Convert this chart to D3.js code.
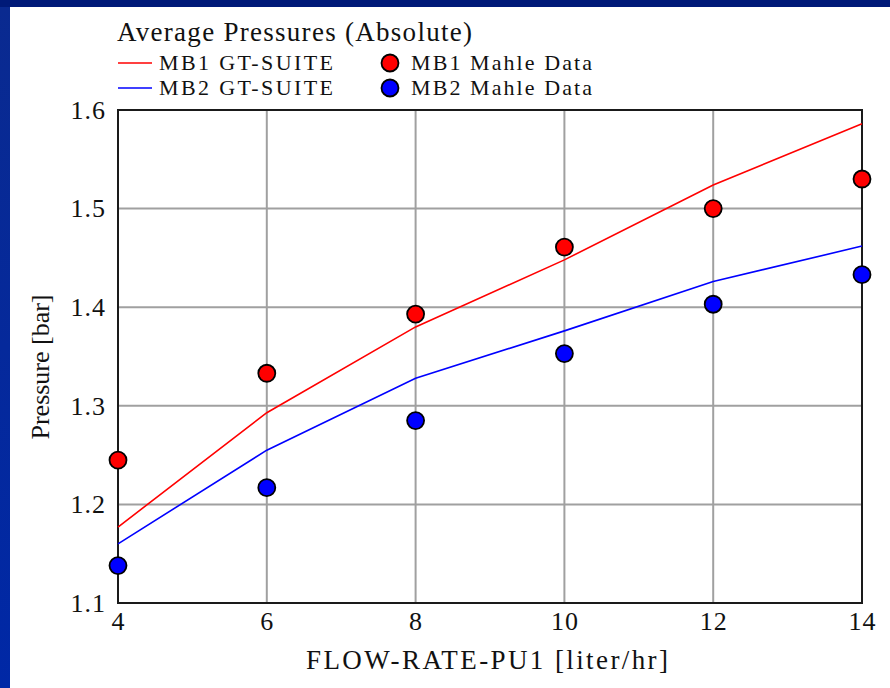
<!DOCTYPE html>
<html>
  <head>
    <meta charset="utf-8">
    <title>Average Pressures</title>
    <script src="https://d3js.org/d3.v7.min.js"></script>
    <style>
      body { margin: 0; background: #001a78; }
      text { font-family: "Liberation Serif", "DejaVu Serif", serif; fill: #111; }
    </style>
  </head>
  <body>
    <script>
      // chart values
      const flowRates = [4, 6, 8, 10, 12, 14];
      const mb1Suite = [1.177, 1.293, 1.380, 1.448, 1.524, 1.586];
      const mb2Suite = [1.160, 1.255, 1.328, 1.376, 1.426, 1.462];
      const mb1Mahle = [1.245, 1.333, 1.393, 1.461, 1.500, 1.530];
      const mb2Mahle = [1.138, 1.217, 1.285, 1.353, 1.403, 1.433];
      const yTicks = [1.1, 1.2, 1.3, 1.4, 1.5, 1.6];
      const xTicks = [4, 6, 8, 10, 12, 14];

      const width = 890;
      const height = 688;
      const plot = {left: 118, right: 862, top: 110, bottom: 603};

      const svg = d3.select("body")
        .append("svg")
          .attr("width", width)
          .attr("height", height)
          .style("display", "block");

      // navy frame + white panel
      const grad = svg.append("defs").append("linearGradient")
          .attr("id", "side")
          .attr("x1", 0).attr("y1", 0).attr("x2", 0).attr("y2", 1);
      grad.append("stop").attr("offset", "0%").attr("stop-color", "#0a2a90");
      grad.append("stop").attr("offset", "100%").attr("stop-color", "#0028a6");

      svg.append("rect").attr("width", width).attr("height", height).attr("fill", "#001a78");
      svg.append("rect").attr("x", 0).attr("y", 7).attr("width", 10).attr("height", height - 7)
        .attr("fill", "url(#side)");
      svg.append("rect").attr("x", 10).attr("y", 7).attr("width", width - 10).attr("height", height - 7)
        .attr("fill", "#fff");

      const x = d3.scaleLinear().domain([4, 14]).range([plot.left, plot.right]);
      const y = d3.scaleLinear().domain([1.1, 1.6]).range([plot.bottom, plot.top]);

      // grid
      svg.append("g")
        .selectAll("line")
        .data(xTicks.slice(1, -1))
        .join("line")
          .attr("x1", d => x(d)).attr("x2", d => x(d))
          .attr("y1", plot.top).attr("y2", plot.bottom)
          .attr("stroke", "#a0a0a0").attr("stroke-width", 2);

      svg.append("g")
        .selectAll("line")
        .data(yTicks.slice(1, -1))
        .join("line")
          .attr("x1", plot.left).attr("x2", plot.right)
          .attr("y1", d => y(d)).attr("y2", d => y(d))
          .attr("stroke", "#a0a0a0").attr("stroke-width", 2);

      // axes (labels only, frame drawn separately)
      const yAxis = d3.axisLeft(y).tickValues(yTicks).tickSize(0).tickPadding(12)
        .tickFormat(d3.format(".1f"));
      const xAxis = d3.axisBottom(x).tickValues(xTicks).tickSize(0).tickPadding(9)
        .tickFormat(d3.format("d"));

      const gy = svg.append("g")
        .attr("transform", "translate(" + plot.left + ",0)")
        .call(yAxis);
      const gx = svg.append("g")
        .attr("transform", "translate(0," + plot.bottom + ")")
        .call(xAxis);
      [gy, gx].forEach(g => {
        g.select(".domain").remove();
        g.selectAll("text")
          .style("font-family", "'Liberation Serif', serif")
          .style("font-size", "26px")
          .attr("fill", "#111")
          .attr("letter-spacing", "1px");
      });

      // frame
      svg.append("path")
        .attr("d", "M" + plot.left + "," + plot.top + "H" + plot.right + "V" + plot.bottom +
                   "H" + plot.left + "Z")
        .attr("fill", "none")
        .attr("stroke", "#1a1a1a")
        .attr("stroke-width", 2);

      // simulation lines
      const line = d3.line()
        .x((d, i) => x(flowRates[i]))
        .y(d => y(d));

      svg.append("path")
        .attr("d", line(mb1Suite))
        .attr("fill", "none")
        .attr("stroke", "#ff0000")
        .attr("stroke-width", 1.6);

      svg.append("path")
        .attr("d", line(mb2Suite))
        .attr("fill", "none")
        .attr("stroke", "#0000ff")
        .attr("stroke-width", 1.6);

      // measured points
      function dots(values, color) {
        svg.append("g")
          .selectAll("circle")
          .data(values)
          .join("circle")
            .attr("cx", (d, i) => x(flowRates[i]))
            .attr("cy", d => y(d))
            .attr("r", 8.5)
            .attr("fill", color)
            .attr("stroke", "#000")
            .attr("stroke-width", 1.8);
      }
      dots(mb1Mahle, "#ff0000");
      dots(mb2Mahle, "#0000ff");

      // title
      svg.append("text")
        .attr("x", 117)
        .attr("y", 41)
        .attr("textLength", 355)
        .attr("lengthAdjust", "spacing")
        .style("font-size", "27px")
        .text("Average Pressures (Absolute)");

      // legend
      const legendRows = [
        {label: "MB1 GT-SUITE", dot: "MB1 Mahle Data", color: "#ff0000", y: 63},
        {label: "MB2 GT-SUITE", dot: "MB2 Mahle Data", color: "#0000ff", y: 88}
      ];
      const legend = svg.append("g");
      legendRows.forEach(r => {
        legend.append("line")
          .attr("x1", 118).attr("x2", 152)
          .attr("y1", r.y).attr("y2", r.y)
          .attr("stroke", r.color).attr("stroke-width", 1.6);
        legend.append("text")
          .attr("x", 159).attr("y", r.y + 7)
          .attr("textLength", 174).attr("lengthAdjust", "spacing")
          .style("font-size", "22px")
          .text(r.label);
        legend.append("circle")
          .attr("cx", 390).attr("cy", r.y)
          .attr("r", 8.5)
          .attr("fill", r.color)
          .attr("stroke", "#000").attr("stroke-width", 1.8);
        legend.append("text")
          .attr("x", 411).attr("y", r.y + 7)
          .attr("textLength", 181).attr("lengthAdjust", "spacing")
          .style("font-size", "22px")
          .text(r.dot);
      });

      // axis titles
      svg.append("text")
        .attr("x", 487).attr("y", 669)
        .attr("text-anchor", "middle")
        .attr("textLength", 362).attr("lengthAdjust", "spacing")
        .style("font-size", "27px")
        .text("FLOW-RATE-PU1 [liter/hr]");

      svg.append("text")
        .attr("transform", "translate(49,367) rotate(-90)")
        .attr("text-anchor", "middle")
        .attr("textLength", 145).attr("lengthAdjust", "spacing")
        .style("font-size", "26px")
        .text("Pressure [bar]");
    </script>
  </body>
</html>
